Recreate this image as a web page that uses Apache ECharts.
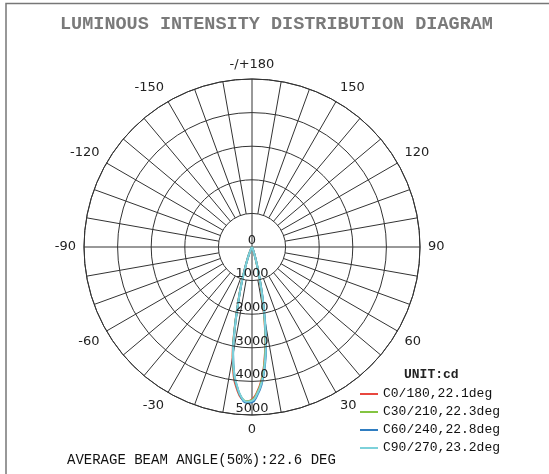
<!DOCTYPE html>
<html>
<head>
<meta charset="utf-8">
<script src="https://cdn.jsdelivr.net/npm/echarts@6/dist/echarts.min.js"></script>
<style>html,body{margin:0;padding:0;background:#fff}#c{width:549px;height:474px}</style>
</head>
<body>
<div id="c"></div>
<script>
// ---- data ----
const angles = [-30,-25,-22,-20,-18,-16,-14,-12,-10,-8,-6,-4,-2,0,2,4,6,8,10,12,14,16,18,20,25,30];
const c0   = [0,90,260,440,720,1180,1720,2500,3330,3900,4260,4520,4600,4540,4320,3980,3480,2850,2080,1380,800,450,230,110,25,0];
const c30  = [0,85,255,430,710,1160,1700,2470,3280,3840,4210,4490,4600,4560,4350,4020,3520,2900,2130,1420,830,470,240,115,28,0];
const c60  = [0,80,245,415,690,1140,1670,2440,3240,3810,4200,4500,4640,4620,4420,4100,3610,3000,2230,1490,880,500,260,125,32,0];
const c90  = [0,80,250,420,700,1150,1680,2450,3250,3800,4180,4480,4610,4580,4380,4060,3570,2950,2180,1450,850,480,250,120,30,0];
const seriesNames = ['C0/180,22.1deg','C30/210,22.3deg','C60/240,22.8deg','C90/270,23.2deg'];
const seriesColors = ['#e8473f','#84c441','#2f7dc1','#7dd1da'];
const angleTicks = [0,30,60,90,120,150,180,210,240,270,300,330];
const angleTickLabels = ['0','30','60','90','120','150','-/+180','-150','-120','-90','-60','-30'];
const radiusTicks = [0,1000,2000,3000,4000,5000];
const radiusTickLabels = ['0','1000','2000','3000','4000','5000'];
const spokeAngles = [];
for (let a = 0; a < 360; a += 10) spokeAngles.push(a);
const titleText = 'LUMINOUS INTENSITY DISTRIBUTION DIAGRAM';
const unitText = 'UNIT:cd';
const footText = 'AVERAGE BEAM ANGLE(50%):22.6 DEG';

const toPolar = vals => vals.map((v, i) => [v, angles[i] < 0 ? angles[i] + 360 : angles[i]]);
const seriesData = [c0, c30, c60, c90];

const chart = echarts.init(document.getElementById('c'));
const lineSeries = seriesData.map((vals, i) => ({
  type: 'line',
  name: seriesNames[i],
  coordinateSystem: 'polar',
  data: toPolar(vals),
  smooth: true,
  symbol: 'none',
  lineStyle: { color: seriesColors[i], width: 2 },
  itemStyle: { color: seriesColors[i] },
  z: 3
}));

chart.setOption({
  animation: false,
  title: [
    { text: titleText, left: 55, top: 10,
      textStyle: { fontFamily: 'Liberation Mono', fontSize: 18.5, fontWeight: 'bold', color: '#7a7a7a' } },
    { text: unitText, left: 399, top: 363,
      textStyle: { fontFamily: 'Liberation Mono', fontSize: 13, fontWeight: 'bold', color: '#222' } },
    { text: footText, left: 62, top: 448,
      textStyle: { fontFamily: 'Liberation Mono', fontSize: 14, fontWeight: 'normal', color: '#111' } }
  ],
  legend: {
    data: seriesNames.map(n => ({ name: n, icon: 'rect' })),
    orient: 'vertical',
    left: 355, top: 382,
    itemWidth: 18, itemHeight: 2, itemGap: 4,
    textStyle: { fontFamily: 'Liberation Mono', fontSize: 13, color: '#111', lineHeight: 14, height: 14 },
    selectedMode: false
  },
  polar: { center: [252, 247], radius: 168 },
  angleAxis: {
    type: 'value', min: 0, max: 360, interval: 10,
    startAngle: 270, clockwise: false,
    axisLine: { lineStyle: { color: '#333', width: 1 } },
    axisTick: { show: false },
    splitLine: { show: false },
    axisLabel: {
      margin: 8, color: '#222', fontFamily: 'DejaVu Sans', fontSize: 13,
      formatter: v => { const k = angleTicks.indexOf(v); return k >= 0 ? angleTickLabels[k] : ''; }
    }
  },
  radiusAxis: {
    type: 'value', min: 0, max: 5000, interval: 1000,
    axisLine: { show: false },
    axisTick: { show: false },
    splitLine: { show: true, lineStyle: { color: '#333', width: 1 } },
    axisLabel: {
      margin: 0, align: 'center', verticalAlign: 'bottom', color: '#222', fontFamily: 'DejaVu Sans', fontSize: 13,
      formatter: v => { const k = radiusTicks.indexOf(v); return k >= 0 ? radiusTickLabels[k] : ''; }
    },
    z: 4
  },
  graphic: [{
    type: 'polyline', silent: true,
    shape: { points: [[6, 474], [6, 3.5], [549, 3.5]] },
    style: { stroke: '#777', lineWidth: 1.5, fill: null }
  }],
  series: [{
    type: 'custom', coordinateSystem: 'polar', silent: true, z: 1,
    data: spokeAngles.map(a => [5000, a]),
    renderItem: (params, api) => {
      const a = api.value(1);
      const r0 = a % 90 === 0 ? 0 : 1000;
      const p0 = api.coord([r0, a]);
      const p1 = api.coord([5000, a]);
      return { type: 'line', shape: { x1: p0[0], y1: p0[1], x2: p1[0], y2: p1[1] },
               style: { stroke: '#333', lineWidth: 1 } };
    }
  }].concat(lineSeries)
});
</script>
</body>
</html>
